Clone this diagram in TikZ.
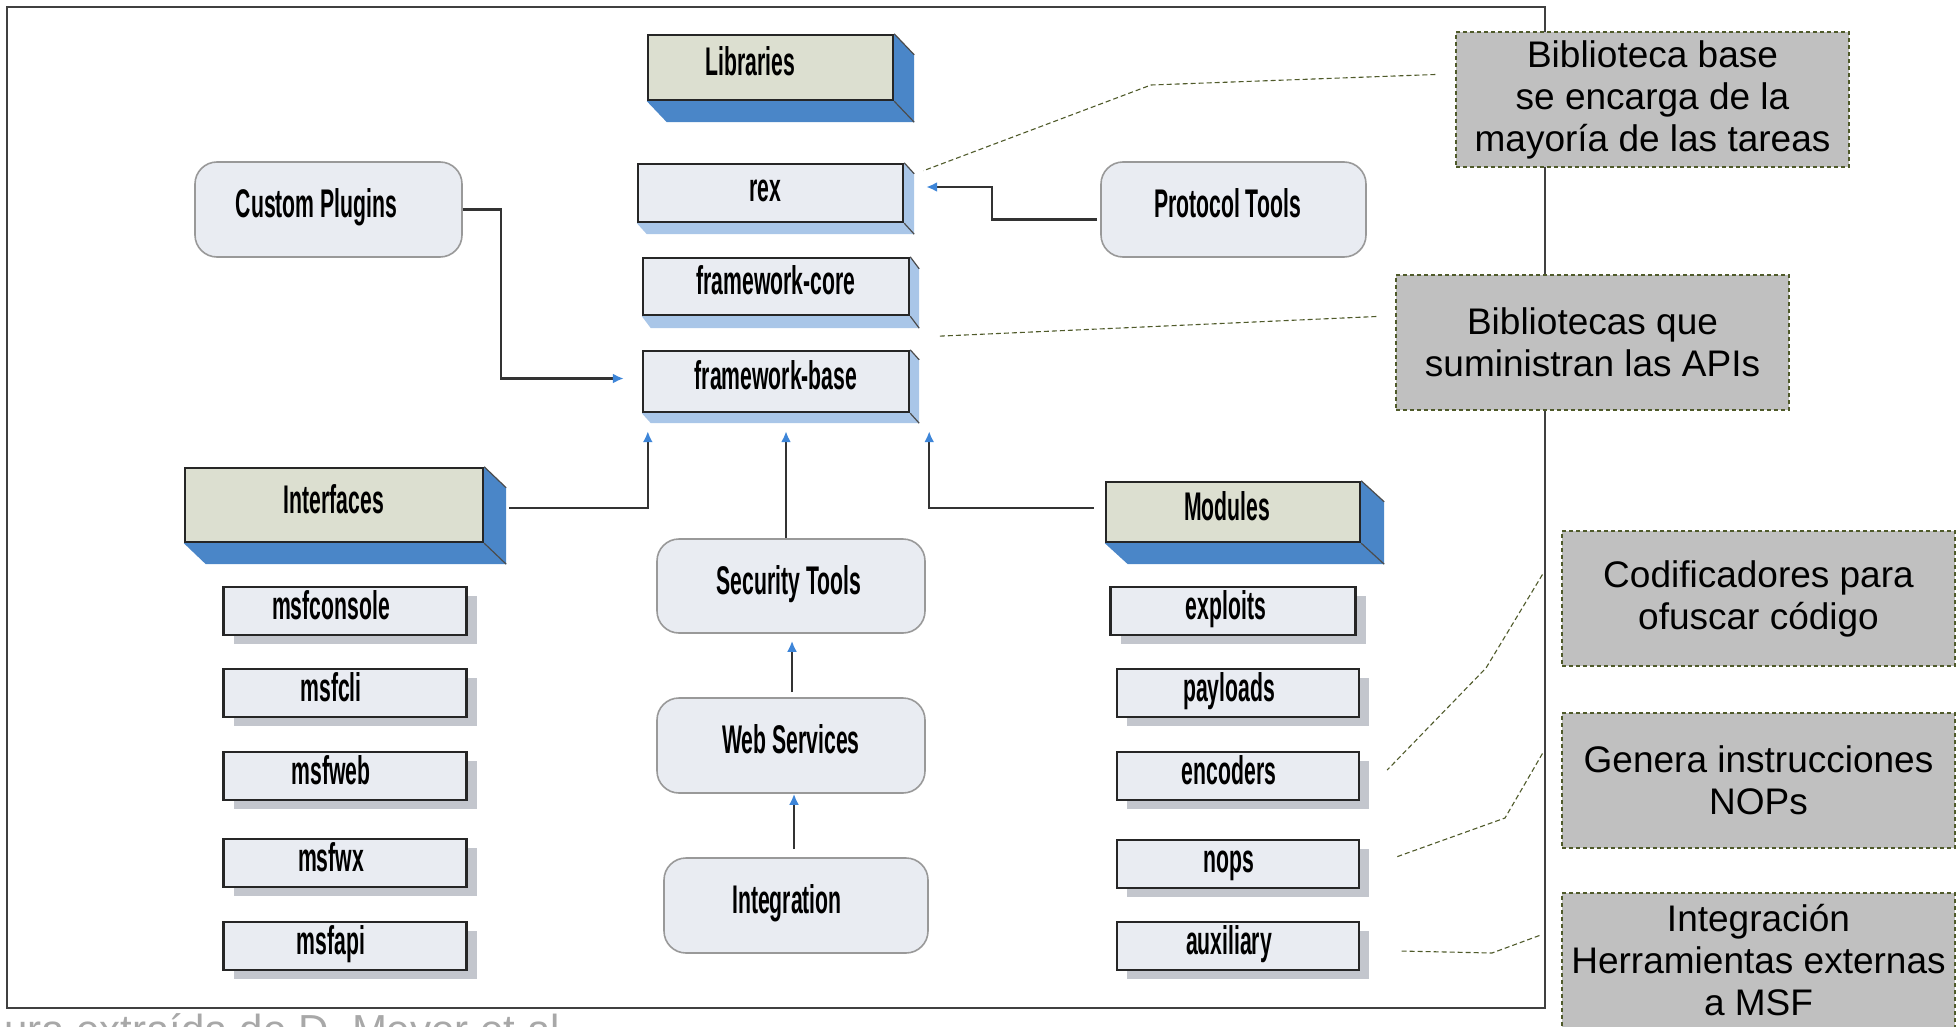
\documentclass[tikz,border=0pt]{standalone}
\usepackage{fontspec}
\setmainfont{Liberation Sans}
\newfontfamily\blockfont[FakeStretch=0.53]{Liberation Sans}
\usetikzlibrary{arrows.meta,calc,positioning,shadows}

\definecolor{facegray}{HTML}{E9ECF2}
\definecolor{headface}{HTML}{DCDFD0}
\definecolor{deepblue}{HTML}{4A86C8}
\definecolor{paleblue}{HTML}{A9C6E8}
\definecolor{shadowgray}{HTML}{C3C6CD}
\definecolor{notegray}{HTML}{C0C0C0}
\definecolor{noteline}{HTML}{4F5A2A}
\definecolor{arrowblue}{HTML}{3D85D8}
\definecolor{linedark}{HTML}{333333}
\definecolor{capgray}{HTML}{A8A8A8}

% depth faces of a block: node, dx, dy, colour
\newcommand{\extrude}[4]{%
  \fill[#4] (#1.north east) -- ++(#2,#3) -- ($(#1.south east)+(#2,#3)$)
    -- ($(#1.south west)+(#2,#3)$) -- (#1.south west) -- (#1.south east) -- cycle;
  \draw[line width=1.2pt,black!70] (#1.north east) -- ++(#2,#3);
  \draw[line width=1.2pt,black!70] (#1.south east) -- ++(#2,#3);
}

\begin{document}
\begin{tikzpicture}[x=1pt,y=-1pt,>=Latex,
  block/.style={draw=black!85,line width=2.4pt,inner sep=0pt,
    font=\blockfont\bfseries\fontsize{40}{44}\selectfont,text height=23pt,text depth=7pt},
  head/.style={block,fill=headface},
  lib/.style={block,fill=facegray},
  listbox/.style={block,fill=facegray,minimum width=243pt,minimum height=48pt,
    drop shadow={shadow xshift=10pt,shadow yshift=-9pt,fill=shadowgray,opacity=1}},
  tool/.style={block,draw=black!40,line width=1.6pt,fill=facegray,rounded corners=22pt,
    minimum width=267pt,minimum height=95pt},
  note/.style={draw=noteline,dash pattern=on 4pt off 3pt,line width=1.1pt,fill=notegray,
    align=center,inner sep=0pt,minimum width=393pt,minimum height=135pt,
    font=\fontsize{37}{42}\selectfont},
  hint/.style={draw=noteline,dash pattern=on 5pt off 3pt,line width=1.1pt},
  nudge/.style={execute at begin node={\kern-#1pt}},
  conn/.style={draw=linedark,line width=2.4pt,-{Latex[length=11pt,width=10pt,color=arrowblue]}}
]
\clip (0,0) rectangle (1958,1027);

% Frame
\draw[line width=2.2pt,black!75] (7,7) rectangle (1545,1008);

% === Libraries ===
\node[head,nudge=40,minimum width=245pt,minimum height=65pt] (libs) at (770.5,67.5) {Libraries};
\extrude{libs}{20}{21}{deepblue}
\node[lib,nudge=10,minimum width=265pt,minimum height=58pt] (rex) at (770.5,193) {rex};
\extrude{rex}{10}{11}{paleblue}
\node[lib,minimum width=266pt,minimum height=57pt] (fcore) at (776,286.5) {framework-core};
\extrude{fcore}{9}{12}{paleblue}
\node[lib,minimum width=266pt,minimum height=61pt] (fbase) at (776,381.5) {framework-base};
\extrude{fbase}{9}{10}{paleblue}

% === Tools ===
\node[tool,nudge=24] (plugins) at (328.5,209.5) {Custom Plugins};
\node[tool,nudge=12,minimum width=265pt] (proto) at (1233.5,209.5) {Protocol Tools};
\node[tool,nudge=4,minimum width=268pt,minimum height=94pt] (sectools) at (791,586) {Security Tools};
\node[tool,minimum width=268pt] (websvc) at (791,745.5) {Web Services};
\node[tool,nudge=18,minimum width=264pt] (integ) at (796,905.5) {Integration};

% === Interfaces ===
\node[head,minimum width=298pt,minimum height=74pt] (ifaces) at (334,505) {Interfaces};
\extrude{ifaces}{22}{21}{deepblue}
\foreach \name/\y in {msfconsole/611,msfcli/693,msfweb/776,msfwx/863,msfapi/946}
  \node[listbox,nudge=28] (\name) at (345,\y) {\name};

% === Modules ===
\node[head,nudge=12,minimum width=254pt,minimum height=60pt] (modules) at (1233,512) {Modules};
\extrude{modules}{23}{21}{deepblue}
\node[listbox,nudge=14,minimum width=245pt] (exploits) at (1233,611) {exploits};
\foreach \name/\y in {payloads/693,encoders/776,nops/864,auxiliary/946}
  \node[listbox,nudge=18,minimum width=242pt] (\name) at (1238,\y) {\name};

% Connectors
\coordinate (fbin) at ($(fbase.south)+(10,18)$);
\draw[conn] (plugins.east) -- ++(38,0) |- ($(fbase.west)+(-18,-3)$);
\draw[conn] ($(proto.west)+(-3,10)$) -- ++(-105,0) |- ($(rex.east)+(22,-6)$);
\draw[conn] ($(ifaces.east)+(25,3)$) -| ($(fbase.south west)+(6,18)$);
\draw[conn] ($(modules.west)+(-11,-4)$) -| ($(fbase.south east)+(19,18)$);
\draw[conn] (sectools.north -| fbin) -- (fbin);
\draw[conn] ($(websvc.north)+(1,-5)$) -- ($(sectools.south)+(1,7)$);
\draw[conn] ($(integ.north)+(-2,-8)$) -- ($(websvc.south)+(3,0)$);

% === Notes ===
\node[note] (n1) at (1652.5,99.5) {Biblioteca base\\se encarga de la\\mayoría de las tareas};
\node[note] (n2) at (1592.5,342.5) {Bibliotecas que\\suministran las APIs};
\node[note] (n3) at (1758.5,598.5) {Codificadores para\\ofuscar código};
\node[note] (n4) at (1758.5,780.5) {Genera instrucciones\\NOPs};
\node[note] (n5) at (1758.5,960.5) {Integración\\Herramientas externas\\a MSF};

\draw[hint] ($(n1.west)+(-20,-25)$) -- (1151,85) -- ($(rex.north east)+(19,8)$);
\draw[hint] ($(n2.west)+(-19,-26)$) -- ($(fcore.south east)+(28,20)$);
\draw[hint] ($(n3.west)+(-19,-24)$) -- (1486,668) -- ($(encoders.east)+(27,-6)$);
\draw[hint] ($(n4.west)+(-19,-27)$) -- (1505,818) -- ($(nops.east)+(36,-7)$);
\draw[hint] ($(n5.west)+(-22,-25)$) -- (1492,953) -- ($(auxiliary.east)+(39,5)$);

% Caption
\node[anchor=base west,inner sep=0pt,text=capgray,font=\fontsize{42}{48}\selectfont]
  (caption) at (4,1044) {ura extraída de D. Meyer et al.};
\end{tikzpicture}
\end{document}
